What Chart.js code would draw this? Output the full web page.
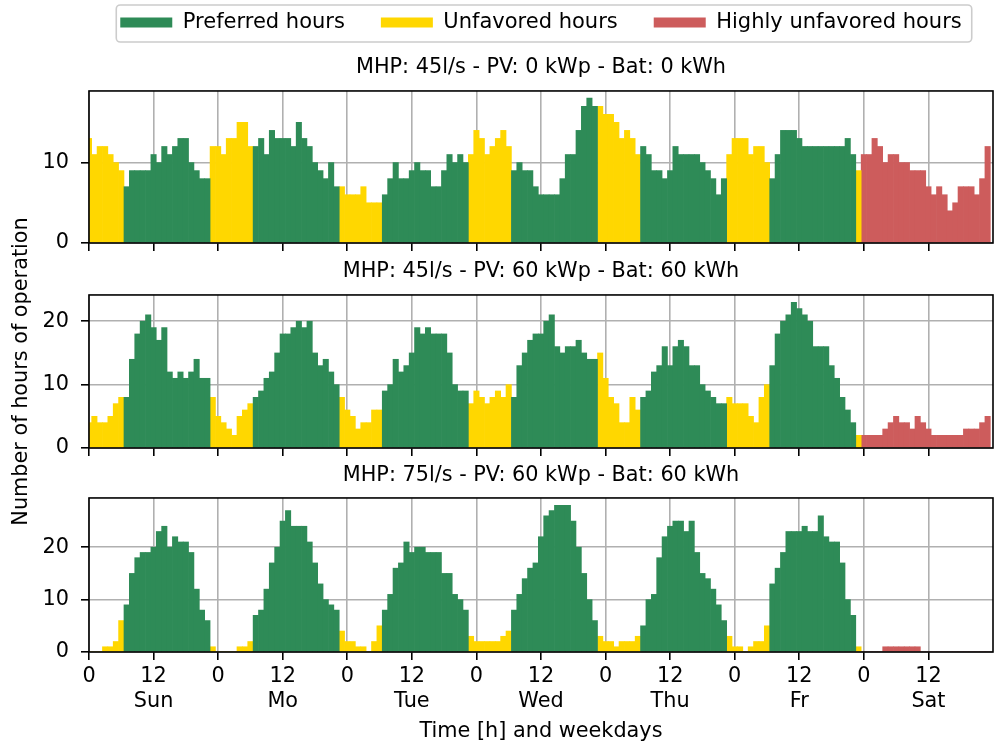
<!DOCTYPE html>
<html><head><meta charset="utf-8">
<script src="https://cdn.jsdelivr.net/npm/chart.js@4.4.0/dist/chart.umd.min.js"></script>
<style>
html,body{margin:0;padding:0;background:#fff;width:997px;height:744px;overflow:hidden;position:relative;}
.box{position:absolute;left:0;}
</style></head><body>
<div class="box" style="top:-24px;height:284px;width:1086px"><canvas id="c1"></canvas></div>
<div class="box" style="top:170px;height:390px;width:997px"><canvas id="c2"></canvas></div>
<div class="box" style="top:455px;height:289px;width:997px"><canvas id="c3"></canvas></div>
<script>
// ---- data ----
const dayNames = ['Sun', 'Mo', 'Tue', 'Wed', 'Thu', 'Fr', 'Sat'];
// hour class per day (G = preferred, Y = unfavored, R = highly unfavored)
const hourClass = [
  'YYYYYYYGGGGGGGGGGGGGGGGY',
  'YYYYYYYGGGGGGGGGGGGGGGGY',
  'YYYYYYYGGGGGGGGGGGGGGGGY',
  'YYYYYYYGGGGGGGGGGGGGGGGY',
  'YYYYYYYGGGGGGGGGGGGGGGGY',
  'YYYYYYYGGGGGGGGGGGGGGGGY',
  'RRRRRRRRRRRRRRRRRRRRRRRR'
];
const categoryCodes = ['G', 'Y', 'R'];
const categoryNames = ['Preferred hours', 'Unfavored hours', 'Highly unfavored hours'];
const categoryColors = ['#2e8b57', '#ffd700', '#cd5c5c'];
const panelTitles = [
  'MHP: 45l/s - PV: 0 kWp - Bat: 0 kWh',
  'MHP: 45l/s - PV: 60 kWp - Bat: 60 kWh',
  'MHP: 75l/s - PV: 60 kWp - Bat: 60 kWh'
];
const hours1 = [
  13,11,12,12,11,10,9,7,9,9,9,9,11,10,12,11,12,13,13,10,9,8,8,12,
  12,11,13,13,15,15,12,12,13,11,14,13,13,13,12,15,13,12,10,9,8,10,7,7,
  6,6,6,7,5,5,5,6,8,10,8,8,9,10,9,9,7,7,9,11,10,11,10,11,
  14,13,11,12,13,14,12,9,10,9,9,7,6,6,6,6,8,11,11,14,17,18,17,17,
  16,16,15,13,14,13,11,12,11,9,9,8,9,12,11,11,11,11,10,9,8,6,8,11,
  13,13,13,11,12,12,10,8,11,14,14,14,13,12,12,12,12,12,12,12,12,13,11,9,
  11,11,13,12,10,11,11,10,10,9,9,9,7,6,7,6,4,5,7,7,7,6,8,12
];
const hours2 = [
  4,5,4,4,5,7,8,8,14,18,20,21,19,17,19,12,11,12,11,12,14,11,11,8,
  5,4,3,2,5,6,7,8,9,11,12,15,18,18,19,20,19,20,15,13,14,12,10,8,
  6,5,3,4,4,6,6,9,10,14,12,13,15,19,18,19,18,18,18,15,10,9,9,7,
  9,8,7,8,9,8,10,8,13,15,17,18,18,20,21,16,15,16,16,17,15,14,14,15,
  11,8,7,4,4,8,6,8,9,12,13,16,13,16,17,16,13,13,10,9,8,7,7,8,
  7,7,7,5,4,8,10,13,18,20,21,23,22,21,20,16,16,16,13,11,8,6,4,2,
  2,2,2,2,3,4,5,4,4,3,5,4,3,2,2,2,2,2,2,3,3,3,4,5
];
const hours3 = [
  0,0,0,1,1,2,6,9,15,18,19,19,20,23,24,20,22,21,21,19,12,8,6,1,
  0,0,0,0,1,1,2,7,8,12,17,20,25,27,24,24,24,21,17,13,10,9,8,4,
  2,2,1,1,0,2,5,8,11,16,17,21,19,20,20,19,19,19,15,15,11,10,8,3,
  2,2,2,2,2,3,4,8,11,14,16,17,22,26,27,28,28,28,25,20,15,10,6,3,
  2,2,1,2,2,2,3,5,10,11,18,22,24,25,25,23,25,19,15,14,12,9,6,3,
  1,1,0,1,2,2,5,13,16,19,23,23,23,24,23,23,26,22,21,21,17,10,7,1,
  0,0,0,0,1,1,1,1,1,1,1,0,0,0,0,0,0,0,0,0,0,0,0,0
];
const xTickValues = [0, 12, 24, 36, 48, 60, 72, 84, 96, 108, 120, 132, 144, 156];
const xTickHourLabels = ['0', '12'];
const yTicks1 = [0, 10];
const yTicks2 = [0, 10, 20];
const yTicks3 = [0, 10, 20];
const xAxisTitle = 'Time [h] and weekdays';
const yAxisTitle = 'Number of hours of operation';

// ---- rendering ----
Chart.defaults.font.family = "'DejaVu Sans', sans-serif";
Chart.defaults.color = '#000';
const FS = 20.8;

const xTickLabels = xTickValues.map((v, i) =>
  i % 2 === 0 ? xTickHourLabels[0] : [xTickHourLabels[1], dayNames[(i - 1) / 2]]);

function makeDatasets(values) {
  const cls = hourClass.join('');
  return categoryCodes.map((code, k) => ({
    label: categoryNames[k],
    backgroundColor: categoryColors[k],
    data: values.map((v, h) => (cls[h] === code ? {x: h, y: v} : null)).filter(p => p !== null)
  }));
}

const framePlugin = {
  id: 'frame',
  afterDraw(chart) {
    const a = chart.chartArea, ctx = chart.ctx;
    ctx.save();
    ctx.strokeStyle = '#000';
    ctx.lineWidth = 1.6;
    ctx.strokeRect(a.left, a.top, a.right - a.left, a.bottom - a.top);
    ctx.restore();
  }
};
const legendFramePlugin = {
  id: 'legendFrame',
  afterDraw(chart) {
    const lg = chart.legend;
    if (!lg || !lg.options.display || !lg.legendHitBoxes || !lg.legendHitBoxes.length) return;
    const hb = lg.legendHitBoxes, last = hb[hb.length - 1];
    const left = hb[0].left - 4, right = last.left + last.width + 10;
    const top = hb[0].top - 7, bottom = hb[0].top + hb[0].height + 9;
    const ctx = chart.ctx;
    ctx.save();
    ctx.strokeStyle = '#cccccc';
    ctx.lineWidth = 1.6;
    ctx.beginPath();
    if (ctx.roundRect) ctx.roundRect(left, top, right - left, bottom - top, 4);
    else ctx.rect(left, top, right - left, bottom - top);
    ctx.stroke();
    ctx.restore();
  }
};

function makeChart(id, values, yTicks, o) {
  const yMax = Math.max(...values) * 1.05;
  const scales = {
    x: {
      type: 'linear', min: 0, max: 168, offset: false, z: 1,
      grid: {offset: false, color: '#b0b0b0', lineWidth: 1.6, tickColor: '#000', tickWidth: 1.6, tickLength: 8, drawTicks: true},
      border: {display: false},
      afterBuildTicks: s => { s.ticks = xTickValues.map(v => ({value: v})); },
      afterFit: s => { s.height = o.xh; s.paddingLeft = 0; s.paddingRight = 0; },
      ticks: {
        display: o.xLabels, autoSkip: false, maxRotation: 0, minRotation: 0, padding: 4.5,
        color: '#000', font: {size: FS}, callback: (v, i) => xTickLabels[i]
      },
      title: {display: o.xLabels, text: xAxisTitle, color: '#000', font: {size: FS}, padding: {top: 0, bottom: 0}}
    },
    y: {
      min: 0, max: yMax, z: 1,
      grid: {color: '#b0b0b0', lineWidth: 1.6, tickColor: '#000', tickWidth: 1.6, tickLength: 8, drawTicks: true},
      border: {display: false},
      afterBuildTicks: s => { s.ticks = yTicks.map(v => ({value: v})); },
      afterFit: s => { s.width = 89; s.paddingTop = 0; s.paddingBottom = 0; },
      ticks: {padding: 12, color: '#000', font: {size: FS}, callback: v => String(v)},
      title: {display: !!o.yTitle, text: yAxisTitle, color: '#000', font: {size: FS}, padding: {top: 9.5, bottom: 0}}
    }
  };
  if (o.rightPad) {
    scales.y2 = {
      position: 'right', display: true,
      grid: {display: false, drawTicks: false}, border: {display: false},
      ticks: {display: false},
      afterFit: s => { s.width = o.rightPad; s.paddingTop = 0; s.paddingBottom = 0; }
    };
  }
  return new Chart(document.getElementById(id), {
    type: 'bar',
    data: {datasets: makeDatasets(values)},
    options: {
      responsive: true,
      maintainAspectRatio: false,
      animation: false,
      events: [],
      layout: {padding: o.pad},
      datasets: {bar: {grouped: false, barPercentage: 1, categoryPercentage: 1, borderWidth: 0}},
      plugins: {
        legend: o.legend ? {
          display: true, position: 'top', fullSize: true, align: 'center',
          labels: {boxWidth: 52, boxHeight: 10, padding: 36, color: '#000', font: {size: 21}}
        } : {display: false},
        title: {
          display: true, text: o.title, fullSize: false, weight: 500, color: '#000',
          font: {size: FS, weight: 'normal'}, padding: {top: o.tpt, bottom: o.tpb}
        },
        tooltip: {enabled: false}
      },
      scales: scales
    },
    plugins: [framePlugin, legendFramePlugin]
  });
}

makeChart('c1', hours1, yTicks1, {legend: true, title: panelTitles[0], tpt: 12.5, tpb: 10.5, xh: 17, xLabels: false,
  rightPad: 89, pad: {top: 0, left: 0, right: 4, bottom: 0}});
makeChart('c2', hours2, yTicks2, {legend: false, title: panelTitles[1], tpt: 9.5, tpb: 10.5, xh: 12, xLabels: false, yTitle: true,
  pad: {top: 80, left: 0, right: 4, bottom: 100}});
makeChart('c3', hours3, yTicks3, {legend: false, title: panelTitles[2], tpt: 8.5, tpb: 9.5, xh: 92, xLabels: true,
  pad: {top: 0, left: 0, right: 4, bottom: 0}});
</script>
</body></html>
